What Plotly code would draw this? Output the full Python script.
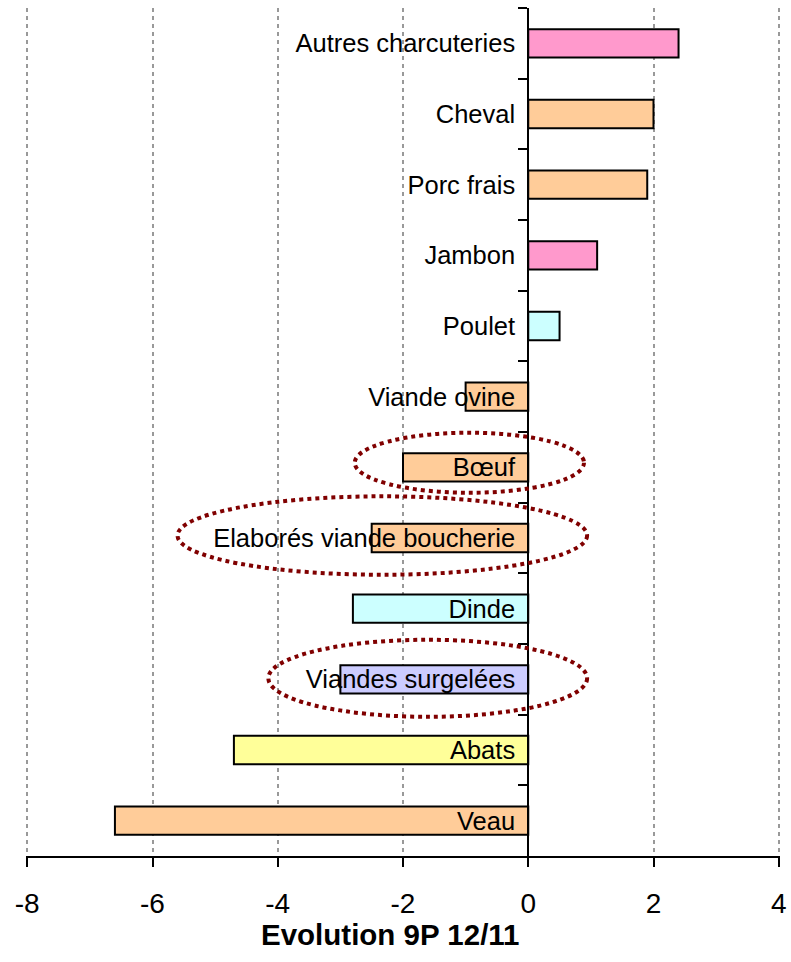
import plotly.graph_objects as go

# data, top to bottom
categories = [
    "Autres charcuteries", "Cheval", "Porc frais", "Jambon", "Poulet",
    "Viande ovine", "Bœuf", "Elaborés viande boucherie", "Dinde",
    "Viandes surgelées", "Abats", "Veau",
]
evolution = [2.4, 2.0, 1.9, 1.1, 0.5, -1.0, -2.0, -2.5, -2.8, -3.0, -4.7, -6.6]
bar_colors = [
    "#FF99CC", "#FFCC99", "#FFCC99", "#FF99CC", "#CCFFFF",
    "#FFCC99", "#FFCC99", "#FFCC99", "#CCFFFF", "#CCCCFF",
    "#FFFF99", "#FFCC99",
]
x_ticks = [-8, -6, -4, -2, 0, 2, 4]
x_ticktext = ["-8", "-6", "-4", "-2", "0", "2", "4"]

# highlight ellipses: (x0, x1, y0, y1) in axis units
highlights = [
    (-2.77, 0.89, 5.51, 6.36),
    (-5.60, 0.94, 6.41, 7.52),
    (-4.15, 0.94, 8.44, 9.53),
]

fig = go.Figure()
fig.add_trace(go.Bar(
    y=categories, x=evolution,
    orientation="h",
    width=0.4,
    marker=dict(color=bar_colors, line=dict(color="black", width=2)),
    hoverinfo="x+y",
))

for x0, x1, y0, y1 in highlights:
    fig.add_shape(
        type="circle", xref="x", yref="y",
        x0=x0, x1=x1, y0=y0, y1=y1,
        line=dict(color="#800000", width=4, dash="dot"),
    )

# axis title sits a little left of centre in the original
fig.add_annotation(
    text="<b>Evolution 9P 12/11</b>",
    xref="paper", yref="paper", x=0.484, y=-0.093,
    xanchor="center", yanchor="middle", showarrow=False,
    font=dict(size=29.5),
)

fig.update_layout(
    width=791, height=962,
    plot_bgcolor="white", paper_bgcolor="white",
    margin=dict(l=26, r=11, t=8, b=106),
    showlegend=False,
    font=dict(family="Liberation Sans, Arial, sans-serif", color="black"),
    xaxis=dict(
        range=[-8.02, 4.02],
        tickvals=x_ticks, ticktext=x_ticktext,
        ticks="outside", ticklen=9, tickwidth=2, tickcolor="black",
        showline=True, linecolor="black", linewidth=2,
        showgrid=True, gridcolor="#999999", gridwidth=2, griddash="4px,4px",
        zeroline=False,
        automargin=False,
        tickfont=dict(size=28),
        ticklabelstandoff=12,
    ),
    yaxis=dict(
        type="category",
        autorange="reversed",
        anchor="free", position=8.02 / 12.04,
        showline=True, linecolor="black", linewidth=2,
        ticks="outside", tickson="boundaries", ticklen=9, tickwidth=2, tickcolor="black",
        showgrid=False, zeroline=False,
        automargin=False,
        ticklabelstandoff=7,
        tickfont=dict(size=25.5),
    ),
)

# page has a default 8px body margin; drop it so the figure sits at 0,0
fig.write_html(
    "out.html",
    config={"displayModeBar": False},
    post_script="document.body.style.margin='0';",
)
